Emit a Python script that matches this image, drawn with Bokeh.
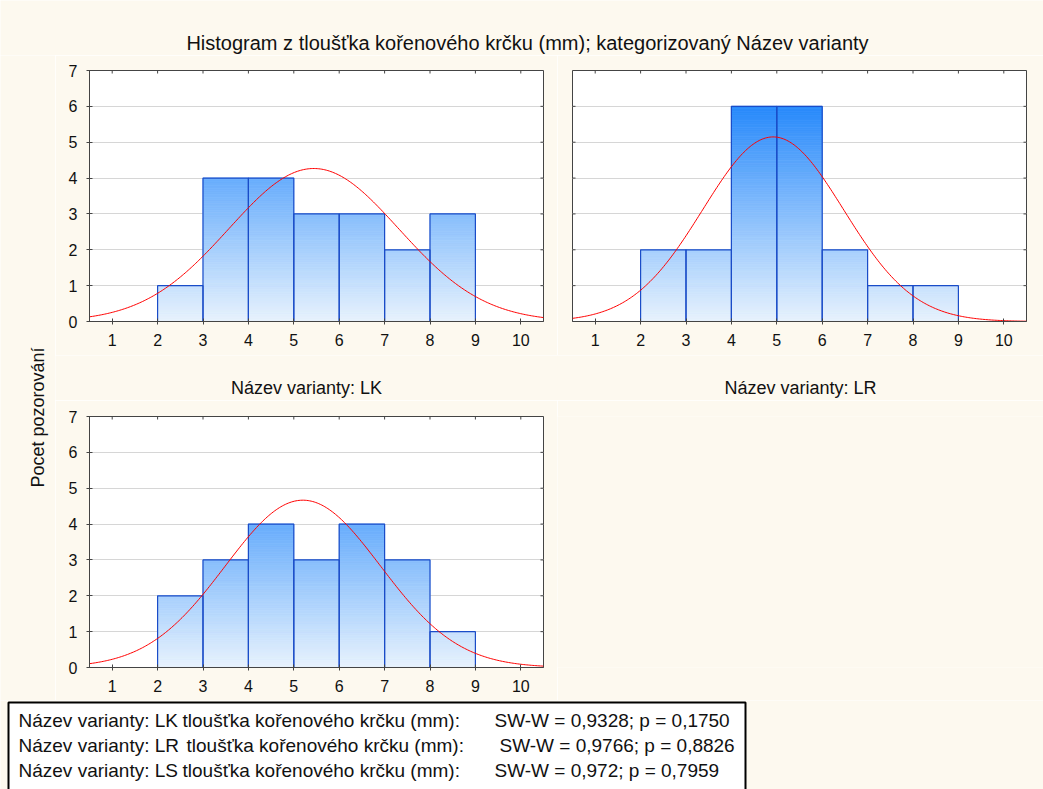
import numpy as np
from bokeh.plotting import figure
from bokeh.layouts import column, row
from bokeh.models import Range1d, FixedTicker, Label, ColumnDataSource
from bokeh.core.properties import value
from bokeh.embed import file_html
from bokeh.resources import INLINE

# ---- data -------------------------------------------------------------
bin_left = [1, 2, 3, 4, 5, 6, 7, 8, 9]          # class lower bounds (width 1 mm)
bin_width = 1.0
counts_lk = [0, 1, 4, 4, 3, 3, 2, 3, 0]
counts_lr = [0, 2, 2, 6, 6, 2, 1, 1, 0]
counts_ls = [0, 2, 3, 4, 3, 4, 3, 1, 0]

# fitted normal distribution (mean, sd) per variant
mean_lk, sd_lk = 5.44, 1.87
mean_lr, sd_lr = 4.92, 1.55
mean_ls, sd_ls = 5.20, 1.71

variants = ["LK", "LR", "LS"]
sw_w = ["0,9328", "0,9766", "0,972"]
p_vals = ["0,1750", "0,8826", "0,7959"]

x_ticks = [1, 2, 3, 4, 5, 6, 7, 8, 9, 10]
y_ticks = [0, 1, 2, 3, 4, 5, 6, 7]
X_MIN, X_MAX = 0.5, 10.5
Y_MIN, Y_MAX = 0, 7

title_text = "Histogram z tloušťka kořenového krčku (mm); kategorizovaný Název varianty"
ylabel_text = "Pocet pozorování"
var_label = "Název varianty"
measure = "tloušťka kořenového krčku (mm):"

# ---- style ------------------------------------------------------------
BG = "#FDF9EF"
FONT = "Liberation Sans"
INK = "#111111"
FRAME = "#444444"
C_LOW = np.array([232, 243, 254])   # bar colour at 0
C_HIGH = np.array([40, 138, 251])   # bar colour at 6
EDGE = "#1A4CC8"
FRAME_W, FRAME_H = 454, 251


def grad_color(y):
    c = C_LOW + (C_HIGH - C_LOW) * (y / 6.0)
    c = np.clip(c, 0, 255).astype(int)
    return "#%02x%02x%02x" % tuple(c)


def panel(counts, mean, sd, width, height, mb, left_axis):
    p = figure(width=width, height=height,
               x_range=Range1d(X_MIN, X_MAX), y_range=Range1d(Y_MIN, Y_MAX),
               output_backend="svg", toolbar_location=None,
               min_border_left=mb[0], min_border_right=mb[1],
               min_border_top=mb[2], min_border_bottom=mb[3])
    p.background_fill_color = "white"
    p.border_fill_color = BG
    p.outline_line_color = FRAME
    p.xgrid.visible = False
    p.ygrid.grid_line_color = "#D6D6D6"
    p.ygrid.ticker = FixedTicker(ticks=y_ticks)

    # gradient bars: each bar is built from thin horizontal strips
    step = 0.05
    L, R, B, T, C = [], [], [], [], []
    for xl, n in zip(bin_left, counts):
        for yb in np.arange(0, n, step):
            yt = min(yb + step, n)
            L.append(xl)
            R.append(xl + bin_width)
            B.append(yb)
            T.append(yt)
            C.append(grad_color((yb + yt) / 2))
    p.quad(left=L, right=R, bottom=B, top=T, fill_color=C, line_color=C, line_width=0.8)

    nz = [(xl, n) for xl, n in zip(bin_left, counts) if n > 0]
    p.quad(left=[a for a, _ in nz], right=[a + bin_width for a, _ in nz],
           bottom=0, top=[n for _, n in nz],
           fill_color=None, line_color=EDGE, line_width=1.2)

    # fitted normal curve scaled to counts
    n_tot = sum(counts)
    xs = np.linspace(X_MIN, X_MAX, 300)
    ys = n_tot * bin_width / (sd * np.sqrt(2 * np.pi)) * np.exp(-0.5 * ((xs - mean) / sd) ** 2)
    p.line(xs, ys, line_color="#FF0000", line_width=1)

    axes = [p.xaxis[0]] + ([p.yaxis[0]] if left_axis else [])
    if not left_axis:
        p.yaxis.visible = False
    for ax in axes:
        ax.axis_line_color = FRAME
        ax.major_tick_line_color = FRAME
        ax.major_tick_in = 3
        ax.major_tick_out = 3
        ax.minor_tick_line_color = None
        ax.major_label_text_font = FONT
        ax.major_label_text_font_size = "16px"
        ax.major_label_text_color = INK
    p.xaxis.ticker = FixedTicker(ticks=x_ticks)
    p.xaxis.major_label_standoff = 9
    if left_axis:
        p.yaxis.ticker = FixedTicker(ticks=y_ticks)
        p.yaxis.major_label_standoff = 9

    # inward tick marks along the top, right (and unlabeled left) edges
    dx = (X_MAX - X_MIN) / FRAME_W * 3
    dy = (Y_MAX - Y_MIN) / FRAME_H * 3
    p.segment(x0=x_ticks, y0=[Y_MAX] * len(x_ticks), x1=x_ticks, y1=[Y_MAX - dy] * len(x_ticks),
              line_color=FRAME, line_width=1)
    p.segment(x0=[X_MAX] * len(y_ticks), y0=y_ticks, x1=[X_MAX - dx] * len(y_ticks), y1=y_ticks,
              line_color=FRAME, line_width=1)
    if not left_axis:
        p.segment(x0=[X_MIN] * len(y_ticks), y0=y_ticks, x1=[X_MIN + dx] * len(y_ticks), y1=y_ticks,
                  line_color=FRAME, line_width=1)
    return p


def blank(width, height):
    f = figure(width=width, height=height, output_backend="svg", toolbar_location=None,
               x_range=Range1d(0, width), y_range=Range1d(0, height), min_border=0)
    f.axis.visible = False
    f.grid.visible = False
    f.outline_line_color = None
    f.background_fill_color = BG
    f.border_fill_color = BG
    return f


# ---- panels -----------------------------------------------------------
p1 = panel(counts_lk, mean_lk, sd_lk, 502, 300, (34, 14, 15, 34), True)
p2 = panel(counts_lr, mean_lr, sd_lr, 486, 300, (15, 17, 15, 34), False)
p3 = panel(counts_ls, mean_ls, sd_ls, 502, 300, (34, 14, 16, 33), True)
empty = blank(486, 300)

# ---- panel captions ---------------------------------------------------
captions = blank(988, 45)
for cx, v in zip([251, 745], variants[:2]):
    captions.add_layout(Label(x=cx, y=13, text=f"{var_label}: {v}", text_align="center",
                              text_baseline="middle", text_font=FONT,
                              text_font_size="18px", text_color=INK))

# ---- title ------------------------------------------------------------
title_fig = blank(1043, 55)
title_fig.add_layout(Label(x=527, y=13, text=title_text, text_align="center",
                           text_baseline="middle", text_font=FONT,
                           text_font_size="20px", text_color=INK))

# ---- shared y label ---------------------------------------------------
ystrip = blank(55, 645)
ystrip.add_layout(Label(x=37, y=283, text=ylabel_text, angle=np.pi / 2,
                        text_align="center", text_baseline="middle",
                        text_font=FONT, text_font_size="18px", text_color=INK))

# ---- Shapiro-Wilk summary box -----------------------------------------
box = blank(1043, 89)
box.quad(left=[8], right=[745], bottom=[-10], top=[87],
         fill_color="white", line_color="black", line_width=2)
row_y = [69, 44, 19]
seg_src = ColumnDataSource(dict(
    x=[18, 18, 18, 182, 186, 182, 494, 499, 494],
    y=row_y * 3,
    text=[f"{var_label}: {v}" for v in variants]
         + [measure] * 3
         + [f"SW-W = {w}; p = {pv}" for w, pv in zip(sw_w, p_vals)],
))
box.text(x="x", y="y", text="text", source=seg_src, text_font=value(FONT),
         text_font_size="19px", text_baseline="middle", text_color=INK)

layout = column(title_fig,
                row(ystrip, column(row(p1, p2), captions, row(p3, empty))),
                box)

open("out.html", "w").write(file_html(layout, INLINE))
